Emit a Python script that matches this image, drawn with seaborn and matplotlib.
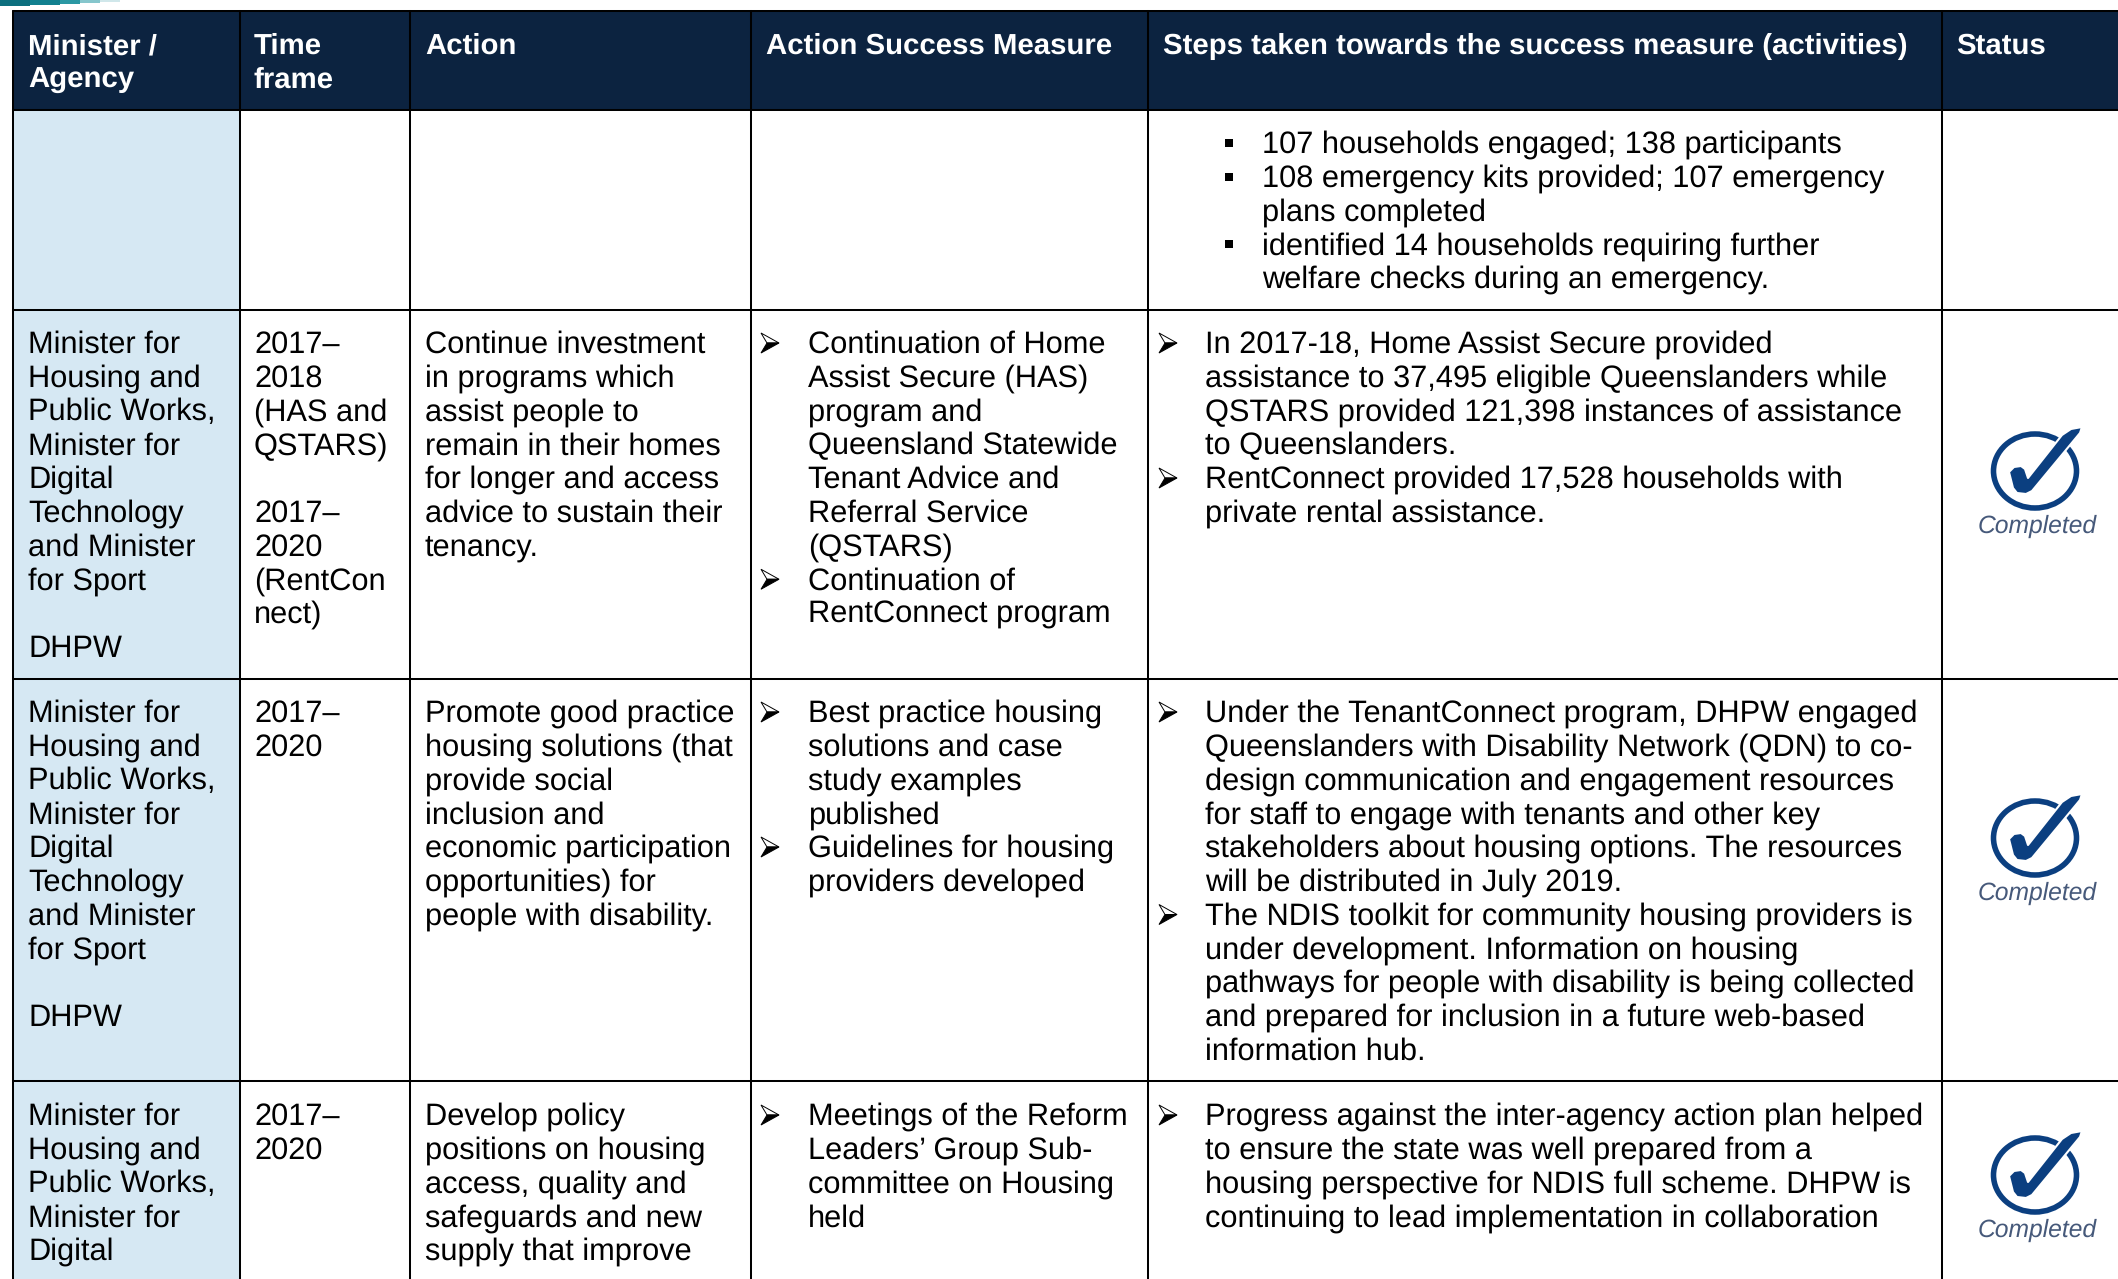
import matplotlib
matplotlib.use('Agg')
import matplotlib.pyplot as plt
from matplotlib.patches import Ellipse, Polygon, Rectangle
import pandas as pd
import seaborn as sns

sns.set_theme(style='white')
plt.rcParams['font.family'] = ['Liberation Sans', 'DejaVu Sans']
plt.rcParams['text.hinting'] = 'no_hinting'

W, H = 2118, 1279
NAVY = '#0c2340'
PALE = '#d6e8f3'
TICK = '#0b3f80'

col_edges = [13, 240, 410, 751, 1148, 1942]
row_edges = [11, 110, 310, 679, 1081]
col_text_x = [28, 254, 425, 808, 1205]
col_bullet_x = [None, None, None, 761, 1159]
row_first_line = [None, 353, 722, 1125]
status_centre = [471, 838, 1175]

headers = [(28, ['Minister /', 'Agency']), (254, ['Time', 'frame']), (425, ['Action']),
           (766, ['Action Success Measure']),
           (1163, ['Steps taken towards the success measure (activities)']),
           (1956, ['Status'])]

minister = ['Minister for', 'Housing and', 'Public Works,', 'Minister for', 'Digital',
            'Technology', 'and Minister', 'for Sport', '', 'DHPW']

row1_bullets = [['107 households engaged; 138 participants'],
                ['108 emergency kits provided; 107 emergency', 'plans completed'],
                ['identified 14 households requiring further', 'welfare checks during an emergency.']]

row2 = [minister,
        ['2017–', '2018', '(HAS and', 'QSTARS)', '', '2017–', '2020', '(RentCon', 'nect)'],
        ['Continue investment', 'in programs which', 'assist people to', 'remain in their homes',
         'for longer and access', 'advice to sustain their', 'tenancy.'],
        [['Continuation of Home', 'Assist Secure (HAS)', 'program and', 'Queensland Statewide',
          'Tenant Advice and', 'Referral Service', '(QSTARS)'],
         ['Continuation of', 'RentConnect program']],
        [['In 2017-18, Home Assist Secure provided', 'assistance to 37,495 eligible Queenslanders while',
          'QSTARS provided 121,398 instances of assistance', 'to Queenslanders.'],
         ['RentConnect provided 17,528 households with', 'private rental assistance.']]]

row3 = [minister,
        ['2017–', '2020'],
        ['Promote good practice', 'housing solutions (that', 'provide social', 'inclusion and',
         'economic participation', 'opportunities) for', 'people with disability.'],
        [['Best practice housing', 'solutions and case', 'study examples', 'published'],
         ['Guidelines for housing', 'providers developed']],
        [['Under the TenantConnect program, DHPW engaged', 'Queenslanders with Disability Network (QDN) to co-',
          'design communication and engagement resources', 'for staff to engage with tenants and other key',
          'stakeholders about housing options. The resources', 'will be distributed in July 2019.'],
         ['The NDIS toolkit for community housing providers is', 'under development. Information on housing',
          'pathways for people with disability is being collected', 'and prepared for inclusion in a future web-based',
          'information hub.']]]

row4 = [minister[:5],
        ['2017–', '2020'],
        ['Develop policy', 'positions on housing', 'access, quality and', 'safeguards and new', 'supply that improve'],
        [['Meetings of the Reform', 'Leaders’ Group Sub-', 'committee on Housing', 'held']],
        [['Progress against the inter-agency action plan helped', 'to ensure the state was well prepared from a',
          'housing perspective for NDIS full scheme. DHPW is', 'continuing to lead implementation in collaboration']]]

PITCH = 33.75
FS = 22.17
FS_HEAD = 21.15

fig = plt.figure(figsize=(W / 100, H / 100), dpi=100)
ax = fig.add_axes([0, 0, 1, 1])

# fills
ax.add_patch(Rectangle((13, 11), W - 13, 99, color=NAVY, lw=0, zorder=1))
ax.add_patch(Rectangle((13, 110), 227, H - 110, color=PALE, lw=0, zorder=1))

# little swoosh in the top corner, fading out
swoosh_x = [0, 30, 60, 80, 100, 120]
swoosh_c = ['#0d6f7e', '#12808f', '#2b98a3', '#86c6cc', '#d0e7ea']
for i in range(5):
    x0, x1 = swoosh_x[i], swoosh_x[i + 1]
    ax.add_patch(Rectangle((x0, 0), x1 - x0, 6 - i, color=swoosh_c[i], lw=0, zorder=1))

# grid rules as segments
segs = []
for i, x in enumerate(col_edges):
    segs.append({'seg': 'v%d' % i, 'x': x, 'y': 11})
    segs.append({'seg': 'v%d' % i, 'x': x, 'y': H})
for i, y in enumerate(row_edges):
    segs.append({'seg': 'h%d' % i, 'x': 13, 'y': y})
    segs.append({'seg': 'h%d' % i, 'x': W, 'y': y})
grid_df = pd.DataFrame(segs)
sns.lineplot(data=grid_df, x='x', y='y', units='seg', estimator=None, sort=False,
             color='black', lw=1.45, ax=ax, legend=False, zorder=3)
ax.set_xlim(0, W)
ax.set_ylim(H, 0)
ax.axis('off')


def put(x, y, s, **kw):
    ax.text(x, y, s, fontsize=kw.pop('fs', FS), va='baseline', ha='left', color=kw.pop('color', 'black'),
            zorder=5, **kw)


def arrow_bullet(x, y):
    # the outlined arrowhead list marker, y is the text baseline
    ax.add_patch(Polygon([(x, y - 20), (x + 18, y - 10), (x + 6, y - 10)], closed=True, fc='white', ec='black',
                         lw=0.7, zorder=5))
    ax.add_patch(Polygon([(x, y), (x + 18, y - 10), (x + 6, y - 10)], closed=True, fc='black', ec='black',
                         lw=0.7, zorder=5))


for x, lines in headers:
    for j, s in enumerate(lines):
        put(x, 54 + j * 34, s, color='white', fontweight='bold', fs=FS_HEAD)

# carry-over bullets in the first row
y = 153
for item in row1_bullets:
    ax.add_patch(Rectangle((1225, y - 14), 8, 8, color='black', lw=0, zorder=5))
    for s in item:
        put(1262, y, s)
        y += PITCH

for r, row in zip([1, 2, 3], [row2, row3, row4]):
    y0 = row_first_line[r]
    for c in range(3):
        for j, s in enumerate(row[c]):
            put(col_text_x[c], y0 + j * PITCH, s)
    for c in [3, 4]:
        y = y0
        for item in row[c]:
            arrow_bullet(col_bullet_x[c], y)
            for s in item:
                put(col_text_x[c], y, s)
                y += PITCH


def status_icon(cy):
    cx = 2035
    ax.add_patch(Ellipse((cx, cy), 83, 74, fc='none', ec=TICK, lw=4, zorder=4))
    tick = [(-26, 1), (-21, -4), (-14, -5), (-10, -2), (-7, 7), (27, -36), (36, -42), (47, -44), (45, -38),
            (-3, 20), (-9, 23), (-18, 22), (-22, 17)]
    ax.add_patch(Polygon([(cx + a, cy + b) for a, b in tick], closed=True, fc=TICK, ec='white', lw=1.5,
                         joinstyle='round', zorder=4.5))
    ax.text(cx + 2, cy + 62, 'Completed', fontsize=17.7, style='italic', color='#46597a', ha='center',
            va='baseline', zorder=5)


for cy in status_centre:
    status_icon(cy)

fig.savefig('out.png', dpi=100)
